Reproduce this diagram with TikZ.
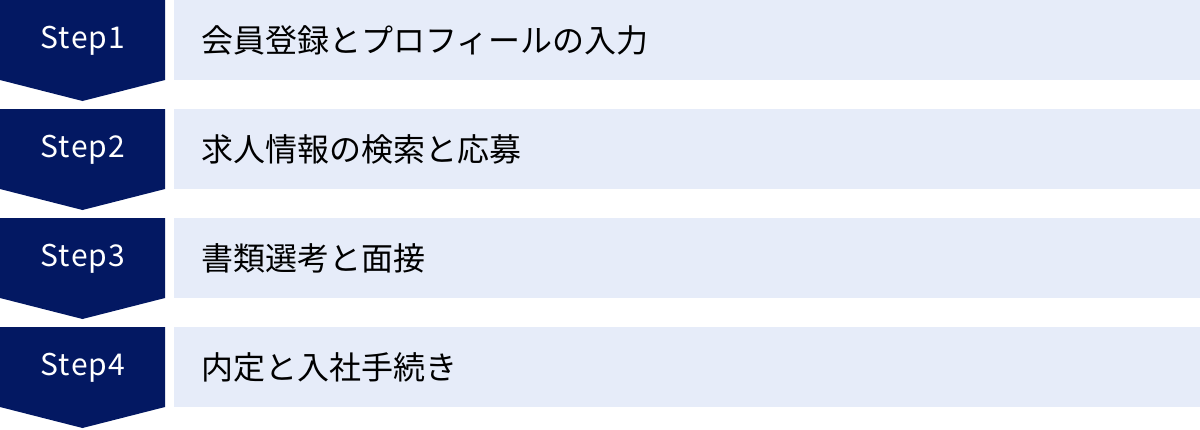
\documentclass[tikz,border=0pt]{standalone}
\usepackage{fontspec}
\setmainfont{Noto Sans CJK JP}
\newfontfamily\stepfont[LetterSpace=4]{Noto Sans CJK JP}
\usetikzlibrary{positioning}

\definecolor{stepnavy}{HTML}{031862}
\definecolor{steplight}{HTML}{E6ECF9}

\tikzset{
  stepbox/.style={fill=stepnavy},
  stepname/.style={text=white, font=\stepfont\fontsize{30}{34}\selectfont},
  stepbar/.style={fill=steplight, minimum width=1026pt, minimum height=80pt,
    inner sep=0pt, anchor=north west},
  steptext/.style={text=black, anchor=west, inner sep=0pt,
    font=\fontsize{32}{36}\selectfont}
}

\begin{document}
\begin{tikzpicture}[x=1pt,y=-1pt]

\useasboundingbox (0,0) rectangle (1200,429);

\foreach \i/\txt in {1/会員登録とプロフィールの入力,
                     2/求人情報の検索と応募,
                     3/書類選考と面接,
                     4/内定と入社手続き}
{
    \pgfmathsetmacro{\top}{(\i-1)*109}
    \fill [stepbox] (0,\top) -- ++(165,0) -- ++(0,80) -- ++(-82.5,21)
        -- ++(-82.5,-21) -- cycle;
    \node [stepname] (step\i) at (83,\top+41) {Step\i};
    \node [stepbar] (bar\i) at (174,\top) {};
    \node [steptext] (txt\i) at ([xshift=27pt]bar\i.west) {\txt};
}

\end{tikzpicture}
\end{document}
